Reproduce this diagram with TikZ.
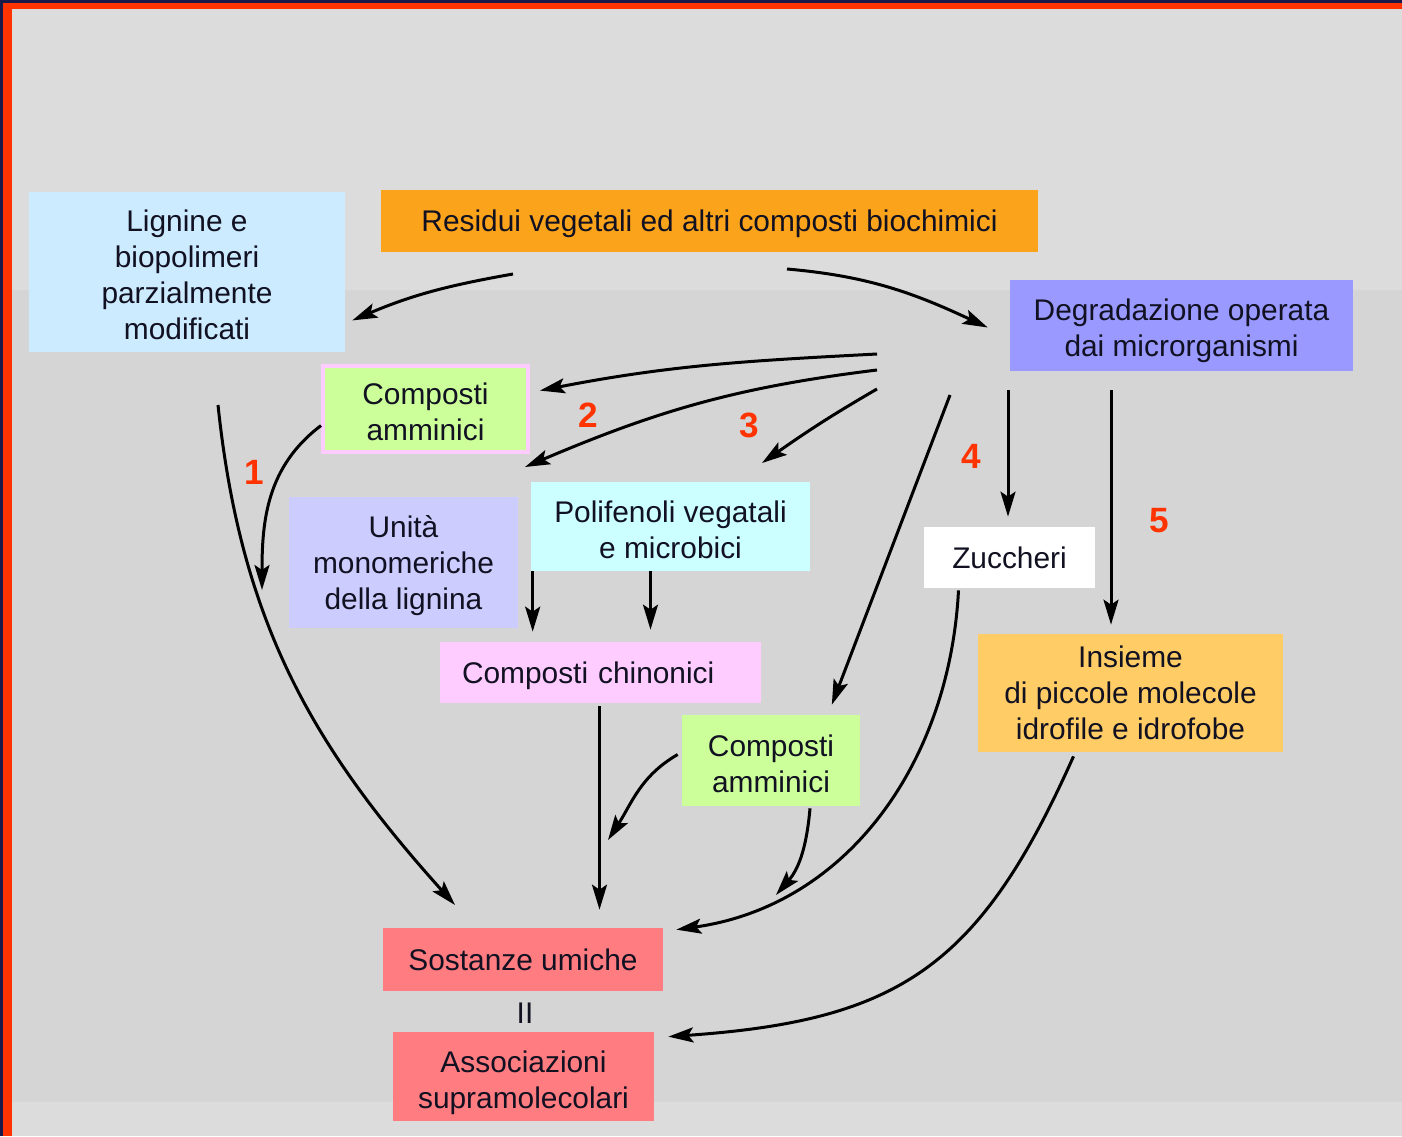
\documentclass[tikz,border=0pt]{standalone}
\usepackage{fontspec}
\setmainfont{Liberation Sans}
\usetikzlibrary{arrows.meta}

\definecolor{navy}{HTML}{1A1A4A}
\definecolor{frame}{HTML}{FF3300}
\definecolor{bgtop}{HTML}{DCDCDC}
\definecolor{bgmid}{HTML}{D5D5D5}
\definecolor{ink}{HTML}{111122}
\definecolor{numred}{HTML}{FF3300}
\definecolor{ligblue}{HTML}{CCEBFF}
\definecolor{resorange}{HTML}{FAA31B}
\definecolor{degviolet}{HTML}{9999FF}
\definecolor{ammgreen}{HTML}{CCFF99}
\definecolor{ammpink}{HTML}{FFCCFF}
\definecolor{unililac}{HTML}{CCCCFF}
\definecolor{polcyan}{HTML}{CCFFFF}
\definecolor{chipink}{HTML}{FFCCFF}
\definecolor{insyellow}{HTML}{FFCC66}
\definecolor{umisalmon}{HTML}{FF7C80}

\newcommand{\boxtop}[1][16pt]{\rule{0pt}{#1}}

\begin{document}
\begin{tikzpicture}[x=0.02cm, y=-0.02cm,
		box/.style={inner sep=0pt, align=center, text=ink, font=\fontsize{17}{20.5}\selectfont},
		num/.style={text=numred, font=\fontsize{20}{24}\selectfont\bfseries},
		arr/.style={line width=0.06cm, -{Stealth[length=0.5cm, width=0.3cm, inset=0.1cm]}}]
		\useasboundingbox (0,0) rectangle (1402,1136);
		\fill[navy] (0,0) rectangle (1402,1136);
		\fill[frame] (3,3) rectangle (1402,1136);
		\fill[bgtop] (12,9) rectangle (1402,1136);
		\fill[bgmid] (12,290) rectangle (1402,1102);

		\node[box, fill=ligblue, minimum width=6.32cm, minimum height=3.2cm] (lig) at (187,272) {\boxtop Lignine e\\biopolimeri\\parzialmente\\modificati};
		\node[box, fill=resorange, minimum width=13.14cm, minimum height=1.24cm] (res) at (709.5,221) {\boxtop Residui vegetali ed altri composti biochimici};
		\node[box, fill=degviolet, minimum width=6.86cm, minimum height=1.82cm] (deg) at (1181.5,325.5) {\boxtop[18pt]Degradazione operata\\dai microrganismi};
		\node[box, fill=ammgreen, draw=ammpink, line width=0.08cm, minimum width=4.1cm, minimum height=1.72cm] (am1) at (425.5,409) {\boxtop Composti\\amminici};
		\node[box, fill=unililac, minimum width=4.58cm, minimum height=2.62cm] (uni) at (403.5,562.5) {\boxtop Unità\\monomeriche\\della lignina};
		\node[box, fill=polcyan, minimum width=5.58cm, minimum height=1.78cm] (pol) at (670.5,526.5) {\boxtop Polifenoli vegatali\\e microbici};
		\node[box, fill=white, minimum width=3.42cm, minimum height=1.22cm] (zuc) at (1009.5,557.5) {Zuccheri};
		\node[box, fill=chipink, inner xsep=0.44cm, text width=5.54cm, align=left, minimum height=1.22cm] (chi) at (600.5,672.5) {\boxtop Composti chinonici};
		\node[box, fill=ammgreen, minimum width=3.56cm, minimum height=1.82cm] (am2) at (771,760.5) {\boxtop Composti\\amminici};
		\node[box, fill=insyellow, minimum width=6.1cm, minimum height=2.36cm] (ins) at (1130.5,693) {Insieme\\di piccole molecole\\idrofile e idrofobe};
		\node[box, fill=umisalmon, minimum width=5.6cm, minimum height=1.26cm] (umi) at (523,959.5) {Sostanze umiche};
		\node[box] (eq) at (525,1013) {II};
		\node[box, fill=umisalmon, minimum width=5.22cm, minimum height=1.78cm] (ass) at (523.5,1076.5) {\boxtop[19pt]Associazioni\\supramolecolari};

		\node[num] (n1) at (254,472) {1};
		\node[num] (n2) at (588,415) {2};
		\node[num] (n3) at (749,425) {3};
		\node[num] (n4) at (971,456) {4};
		\node[num] (n5) at (1159,521) {5};

		\coordinate (r1) at (513,274);
		\coordinate (r2) at (787,269);
		\coordinate (f1) at (877,354);
		\coordinate (f2) at (877,370);
		\coordinate (f3) at (877,389);
		\coordinate (f4) at (950,395);
		\coordinate (d4) at (1008,390);
		\coordinate (d5) at (1111,390);
		\coordinate (l1) at (218,405);
		\coordinate (e2) at (525,467);
		\coordinate (e3) at (762,463);
		\coordinate (e9) at (455,905);
		\coordinate (e10) at (262,590);
		\coordinate (e14) at (608,840);
		\coordinate (e15) at (776,895);

		\draw[arr] (r1) to[out=190, in=23] ([shift={(7,0)}]lig.-17);
		\draw[arr] (r2) to[out=-5, in=155] ([shift={(-22,2)}]deg.west);
		\draw[arr] (f1) to[out=183, in=11] ([shift={(10,0)}]am1.10);
		\draw[arr] (f2) to[out=187, in=23] (e2);
		\draw[arr] (f3) to[out=210, in=35] (e3);
		\draw[arr] (f4) -- ([shift={(0,-10)}]am2.37);
		\draw[arr] (d4) -- ([shift={(0,-10)}]d4 |- zuc.north);
		\draw[arr] (d5) -- ([shift={(0,-9)}]d5 |- ins.north);
		\draw[arr] (l1) to[out=-84, in=132] (e9);
		\draw[arr] (am1.189) to[out=217, in=90] (e10);
		\draw[arr] ([shift={(2,0)}]pol.south west) -- ([shift={(2,-10)}]pol.south west |- chi.north);
		\draw[arr] ([shift={(-20,0)}]pol.south) -- ([shift={(-20,-12)}]pol.south |- chi.north);
		\draw[arr] ([shift={(-1,3)}]chi.south) -- ([shift={(-1,-18)}]chi.south |- umi.north);
		\draw[arr] ([shift={(-4,-6)}]am2.west) to[out=210, in=57] (e14);
		\draw[arr] ([shift={(39,2)}]am2.south) to[out=-95, in=49] (e15);
		\draw[arr] ([shift={(-51,2)}]zuc.south) to[out=-93, in=8] ([shift={(13,2)}]umi.north east);
		\draw[arr] ([shift={(-57,4)}]ins.south) to[out=246, in=4, looseness=1.2] ([shift={(14,5)}]ass.north east);
	\end{tikzpicture}
\end{document}
